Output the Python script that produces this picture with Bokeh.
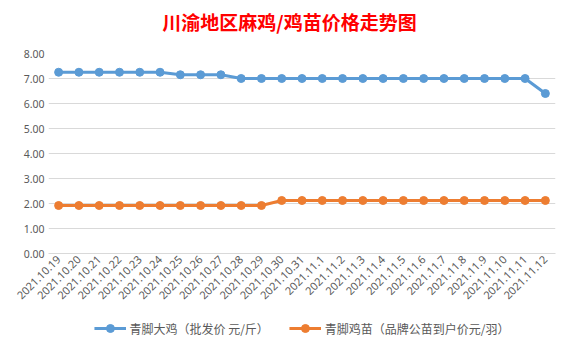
import math
from bokeh.plotting import figure
from bokeh.layouts import column
from bokeh.models import (ColumnDataSource, Legend, LegendItem, FixedTicker, Range1d, Div,
                          PrintfTickFormatter)
from bokeh.embed import file_html
from bokeh.resources import INLINE

dates = ["2021.10.19", "2021.10.20", "2021.10.21", "2021.10.22", "2021.10.23", "2021.10.24",
         "2021.10.25", "2021.10.26", "2021.10.27", "2021.10.28", "2021.10.29", "2021.10.30",
         "2021.10.31", "2021.11.1", "2021.11.2", "2021.11.3", "2021.11.4", "2021.11.5",
         "2021.11.6", "2021.11.7", "2021.11.8", "2021.11.9", "2021.11.10", "2021.11.11",
         "2021.11.12"]
big_chicken = [7.25, 7.25, 7.25, 7.25, 7.25, 7.25, 7.15, 7.15, 7.15, 7.0, 7.0, 7.0, 7.0,
               7.0, 7.0, 7.0, 7.0, 7.0, 7.0, 7.0, 7.0, 7.0, 7.0, 7.0, 6.4]
chick = [1.92, 1.92, 1.92, 1.92, 1.92, 1.92, 1.92, 1.92, 1.92, 1.92, 1.92, 2.12, 2.12,
         2.12, 2.12, 2.12, 2.12, 2.12, 2.12, 2.12, 2.12, 2.12, 2.12, 2.12, 2.12]
y_ticks = [0, 1, 2, 3, 4, 5, 6, 7, 8]
series_names = ["青脚大鸡（批发价 元/斤）", "青脚鸡苗（品牌公苗到户价元/羽）"]
title_text = "川渝地区麻鸡/鸡苗价格走势图"

blue = "#5B9BD5"
orange = "#ED7D31"

src = ColumnDataSource(dict(d=dates, a=big_chicken, b=chick))

title_div = Div(text=title_text, width=571, height=40, margin=0,
                styles={"font-size": "19px", "font-weight": "bold", "color": "#ff0000",
                        "text-align": "center", "line-height": "40px",
                        "font-family": "'Noto Sans CJK SC'", "padding-left": "8px",
                        "padding-top": "2px", "box-sizing": "border-box"})

p = figure(x_range=dates, y_range=Range1d(0, 8), frame_width=507, frame_height=200,
           output_backend="svg", toolbar_location=None,
           min_border_left=48, min_border_right=16, min_border_top=13, min_border_bottom=56)
p.outline_line_color = None
p.background_fill_color = "white"
p.border_fill_color = "white"

p.xgrid.grid_line_color = None
p.ygrid.grid_line_color = "#d9d9d9"
p.ygrid.grid_line_width = 1
p.yaxis.ticker = FixedTicker(ticks=y_ticks)
p.yaxis.formatter = PrintfTickFormatter(format="%.2f")
p.yaxis.axis_line_color = None
p.yaxis.major_tick_line_color = None
p.yaxis.minor_tick_line_color = None
p.yaxis.major_tick_out = 0
p.yaxis.major_label_text_color = "#595959"
p.yaxis.major_label_text_font = "Noto Sans"
p.yaxis.major_label_text_font_size = "10.5px"
p.yaxis.major_label_standoff = 4

p.xaxis.axis_line_color = "#d9d9d9"
p.xaxis.major_tick_line_color = None
p.xaxis.minor_tick_line_color = None
p.xaxis.major_tick_out = 0
p.xaxis.major_label_orientation = math.pi / 4
p.xaxis.major_label_text_color = "#595959"
p.xaxis.major_label_text_font = "Noto Sans"
p.xaxis.major_label_text_font_size = "11px"
p.xaxis.major_label_standoff = 4
p.x_range.range_padding = 0

p.line("d", "a", source=src, line_color=blue, line_width=3)
p.scatter("d", "a", source=src, size=8, fill_color=blue, line_color=blue)
p.line("d", "b", source=src, line_color=orange, line_width=3)
p.scatter("d", "b", source=src, size=8, fill_color=orange, line_color=orange)

# legend strip below the chart (same series, drawn off-screen, only used for the legend)
p2 = figure(x_range=dates, y_range=Range1d(100, 101), width=571, height=38,
            output_backend="svg", toolbar_location=None, min_border=0)
p2.axis.visible = False
p2.grid.grid_line_color = None
p2.outline_line_color = None
l1 = p2.line("d", "a", source=src, line_color=blue, line_width=3)
s1 = p2.scatter("d", "a", source=src, size=8, fill_color=blue, line_color=blue)
l2 = p2.line("d", "b", source=src, line_color=orange, line_width=3)
s2 = p2.scatter("d", "b", source=src, size=8, fill_color=orange, line_color=orange)

legend = Legend(items=[LegendItem(label=series_names[0], renderers=[l1, s1]),
                       LegendItem(label=series_names[1], renderers=[l2, s2])],
                orientation="horizontal", location="center",
                label_text_font="Noto Sans CJK SC", label_text_font_size="12px",
                label_text_color="#595959", border_line_color=None,
                background_fill_alpha=0, glyph_width=32, spacing=20, padding=2, margin=0,
                label_standoff=4)
p2.add_layout(legend, "center")

layout = column(title_div, p, p2, spacing=0)
open("out.html", "w").write(file_html(layout, INLINE))
